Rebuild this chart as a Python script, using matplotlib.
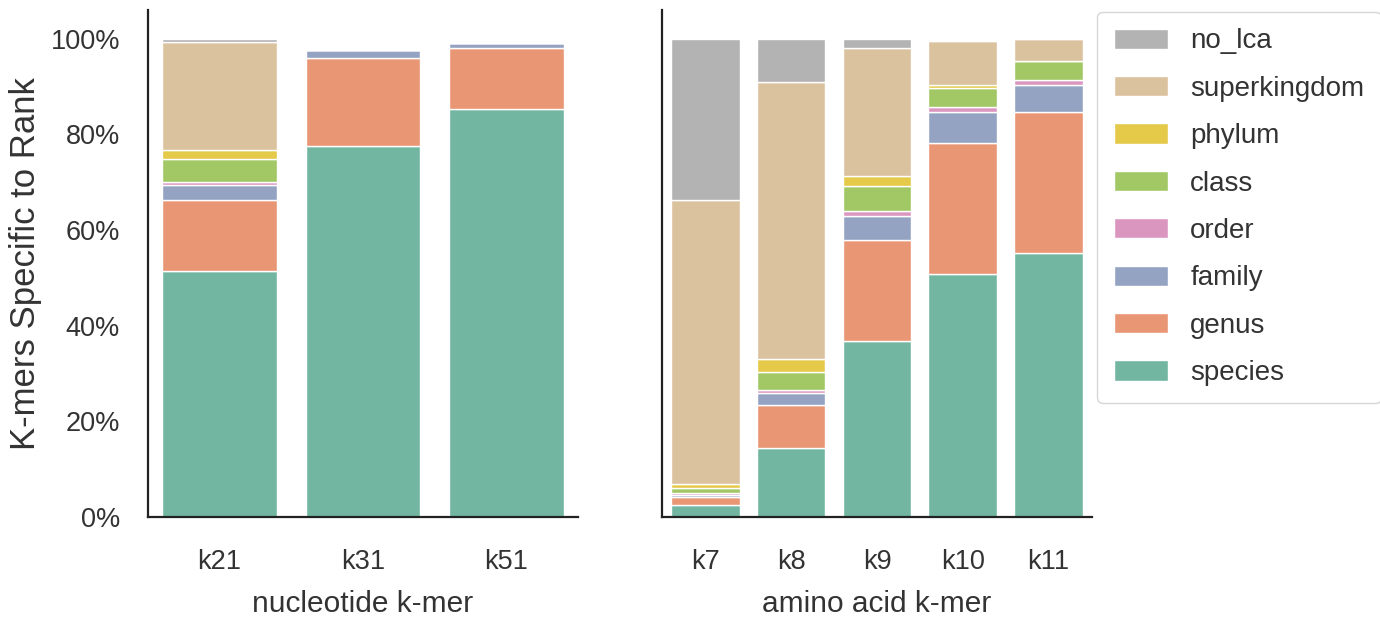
#!/usr/bin/env python3
import matplotlib
matplotlib.use("Agg")
import matplotlib.pyplot as plt
from matplotlib.ticker import PercentFormatter
from matplotlib.patches import Patch
import seaborn as sns

sns.set_style("white")
plt.rcParams['font.family'] = ['Liberation Sans', 'DejaVu Sans']

ranks = ['species', 'genus', 'family', 'order', 'class', 'phylum', 'superkingdom', 'no_lca']

# nucleotide k-mers (percent of k-mers specific to each rank)
nuc_labels = ['k21', 'k31', 'k51']
nuc_species = [51.4, 77.6, 85.2]
nuc_genus = [14.8, 18.4, 12.8]
nuc_family = [3.1, 1.6, 1.0]
nuc_order = [0.7, 0.0, 0.0]
nuc_class = [4.8, 0.0, 0.0]
nuc_phylum = [2.0, 0.0, 0.0]
nuc_superkingdom = [22.4, 0.0, 0.0]
nuc_no_lca = [0.8, 0.0, 0.0]

# amino acid k-mers
aa_labels = ['k7', 'k8', 'k9', 'k10', 'k11']
aa_species = [2.4, 14.5, 36.8, 50.8, 55.2]
aa_genus = [1.8, 8.9, 21.0, 27.4, 29.4]
aa_family = [0.4, 2.5, 5.1, 6.4, 5.7]
aa_order = [0.4, 0.7, 1.0, 1.0, 1.0]
aa_class = [1.1, 3.7, 5.3, 4.0, 4.0]
aa_phylum = [0.7, 2.7, 2.0, 0.8, 0.0]
aa_superkingdom = [59.4, 58.0, 26.8, 9.1, 4.7]
aa_no_lca = [33.8, 9.0, 2.0, 0.0, 0.0]

nuc = [nuc_species, nuc_genus, nuc_family, nuc_order, nuc_class, nuc_phylum, nuc_superkingdom, nuc_no_lca]
aa = [aa_species, aa_genus, aa_family, aa_order, aa_class, aa_phylum, aa_superkingdom, aa_no_lca]

# seaborn-style muted Set2
colors = [sns.desaturate(c, 0.75) for c in sns.color_palette('Set2', 8)]

fig = plt.figure(figsize=(13.8, 6.19), dpi=100)
ax1 = fig.add_axes([0.107, 0.165, 0.312, 0.819])
ax2 = fig.add_axes([0.480, 0.165, 0.311, 0.819], sharey=ax1)


def stack(ax, labels, series):
    x = list(range(len(labels)))
    bottom = [0.0] * len(labels)
    for vals, col in zip(series, colors):
        ax.bar(x, vals, width=0.8, bottom=bottom, color=col, edgecolor='white', linewidth=1)
        bottom = [b + v for b, v in zip(bottom, vals)]
    ax.set_xticks(x)
    ax.set_xticklabels(labels)
    ax.set_xlim(-0.5, len(labels) - 0.5)


stack(ax1, nuc_labels, nuc)
stack(ax2, aa_labels, aa)

ax1.set_ylim(0, 106)
ax1.set_yticks([0, 20, 40, 60, 80, 100])
ax1.yaxis.set_major_formatter(PercentFormatter(decimals=0))
ax1.set_ylabel('K-mers Specific to Rank', fontsize=25, color='#333333', labelpad=6)
ax1.set_xlabel('nucleotide k-mer', fontsize=21.5, color='#333333', labelpad=11)
ax2.set_xlabel('amino acid k-mer', fontsize=21.5, color='#333333', labelpad=11)
plt.setp(ax2.get_yticklabels(), visible=False)

for ax in (ax1, ax2):
    ax.tick_params(axis='both', labelsize=19.5, labelcolor='#333333', length=0)
    ax.tick_params(axis='x', pad=23)
    ax.tick_params(axis='y', pad=20)
    for s in ('top', 'right'):
        ax.spines[s].set_visible(False)
    for s in ('left', 'bottom'):
        ax.spines[s].set_color('#222222')
        ax.spines[s].set_linewidth(1.6)

handles = [Patch(facecolor=c, edgecolor='white') for c in colors][::-1]
fig.legend(handles, ranks[::-1], loc='upper left', bbox_to_anchor=(0.795, 0.981),
           borderaxespad=0, fontsize=20, frameon=True, handlelength=1.95, handleheight=0.75,
           labelspacing=0.77, handletextpad=0.8, borderpad=0.6, labelcolor='#333333')

plt.savefig('out.png', dpi=100)
